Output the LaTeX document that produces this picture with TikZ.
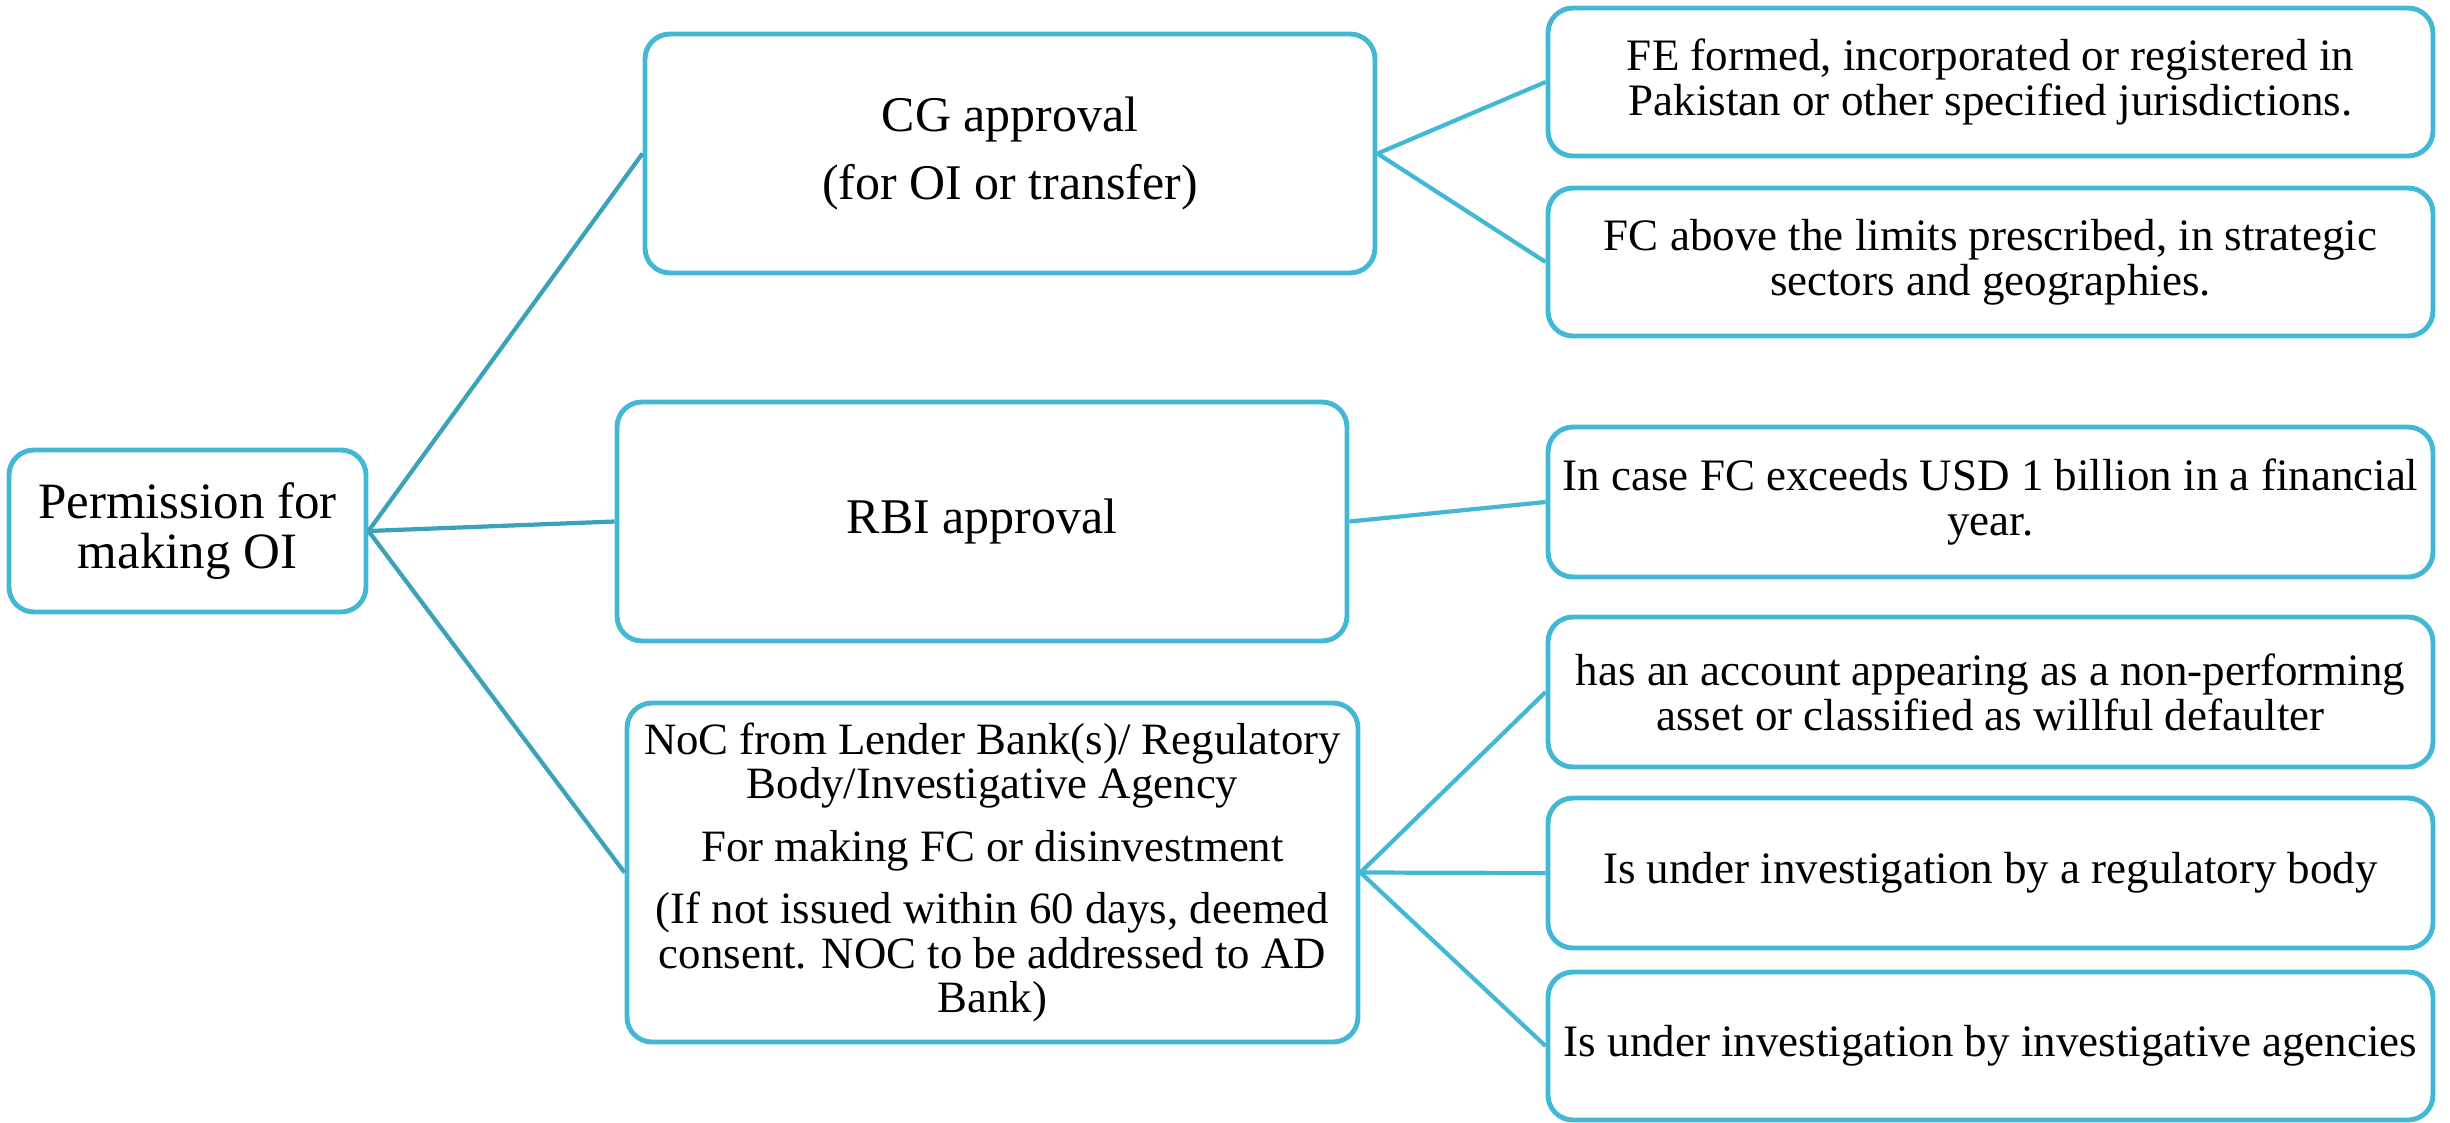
\documentclass[tikz,border=0pt]{standalone}
\usepackage{fontspec}
\setmainfont{Liberation Serif}
\usepackage{tikz}
\definecolor{boxblue}{HTML}{42B8D5}
\definecolor{linkblue}{HTML}{3AA2B9}
\tikzstyle{box} = [draw=boxblue, line width=1.4pt, rounded corners=0.25cm, fill=white, align=center, inner sep=2pt, font=\fontsize{12.8}{12.8}\selectfont]
\tikzstyle{link} = [draw=linkblue, line width=1.2pt]
\tikzstyle{twig} = [draw=boxblue, line width=1.2pt]

\begin{document}
\begin{tikzpicture}
        \useasboundingbox (0,0) rectangle (24.5,-11.22);
        \node[box, minimum width=3.57cm, minimum height=1.62cm, font=\fontsize{14.5}{14.2}\selectfont] at (1.875,-5.31) (perm) {Permission for\\ making OI};

        \node[box, minimum width=7.30cm, minimum height=2.39cm, font=\fontsize{14.2}{15}\selectfont] at (10.10,-1.535) (cg) {CG approval\\[4.6pt] (for OI or transfer)};
        \node[box, minimum width=7.30cm, minimum height=2.39cm, font=\fontsize{14.2}{15}\selectfont] at (9.82,-5.215) (rbi) {RBI approval};
        \node[box, minimum width=7.31cm, minimum height=3.39cm, font=\fontsize{12.75}{12.6}\selectfont] at (9.925,-8.725) (noc) {NoC from Lender Bank(s)/ Regulatory\\ Body/Investigative Agency\\[5.2pt] For making FC or disinvestment\\[5.2pt] (If not issued within 60 days, deemed\\ consent. NOC to be addressed to AD\\ Bank)};

        \node[box, minimum width=8.85cm, minimum height=1.48cm] at (19.905,-0.82) (fe) {FE formed, incorporated or registered in\\ Pakistan or other specified jurisdictions.};
        \node[box, minimum width=8.85cm, minimum height=1.48cm] at (19.905,-2.62) (fc) {FC above the limits prescribed, in strategic\\ sectors and geographies.};
        \node[box, minimum width=8.85cm, minimum height=1.50cm] at (19.905,-5.02) (usd) {In case FC exceeds USD 1 billion in a financial\\ year.};
        \node[box, minimum width=8.85cm, minimum height=1.50cm] at (19.905,-6.92) (npa) {has an account appearing as a non-performing\\ asset or classified as willful defaulter};
        \node[box, minimum width=8.85cm, minimum height=1.50cm] at (19.905,-8.73) (reg) {Is under investigation by a regulatory body};
        \node[box, minimum width=8.85cm, minimum height=1.48cm] at (19.905,-10.46) (agency) {Is under investigation by investigative agencies};

        \draw[link] (perm.east) -- (cg.west);
        \draw[link] (perm.east) -- (rbi.west);
        \draw[link] (perm.east) -- (noc.west);
        \draw[twig] (cg.east) -- (fe.west);
        \draw[twig] (cg.east) -- (fc.west);
        \draw[twig] (rbi.east) -- (usd.west);
        \draw[twig] (noc.east) -- (npa.west);
        \draw[twig] (noc.east) -- (reg.west);
        \draw[twig] (noc.east) -- (agency.west);

    \end{tikzpicture}
\end{document}
